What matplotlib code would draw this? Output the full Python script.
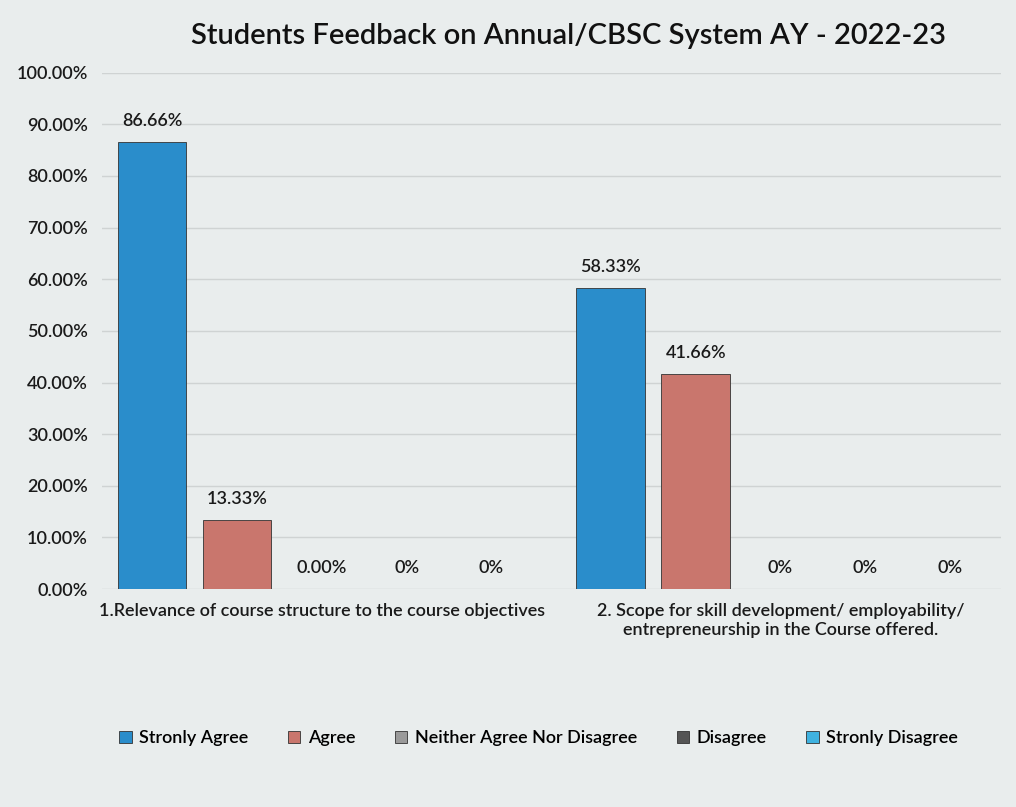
#!/usr/bin/env python3
import matplotlib
matplotlib.use("Agg")
import matplotlib.pyplot as plt
import numpy as np

plt.rcParams["font.family"] = ["Lato", "DejaVu Sans"]

# Data
categories = [
    "1.Relevance of course structure to the course objectives",
    "2. Scope for skill development/ employability/\nentrepreneurship in the Course offered.",
]
series_names = ["Stronly Agree", "Agree", "Neither Agree Nor Disagree", "Disagree", "Stronly Disagree"]
strongly_agree = [86.66, 58.33]
agree = [13.33, 41.66]
neither = [0.0, 0.0]
disagree = [0.0, 0.0]
strongly_disagree = [0.0, 0.0]
value_labels = [
    ["86.66%", "58.33%"],
    ["13.33%", "41.66%"],
    ["0.00%", "0%"],
    ["0%", "0%"],
    ["0%", "0%"],
]
colors = ["#2a8dcb", "#c9766d", "#9a9a9a", "#555555", "#3fb2e0"]

series = [strongly_agree, agree, neither, disagree, strongly_disagree]

fig, ax = plt.subplots(figsize=(10.16, 8.07), dpi=100)
bg = "#e9eded"
fig.patch.set_facecolor(bg)
ax.set_facecolor(bg)

x = np.arange(len(categories))
width = 0.15
gap = 0.185
for i, (name, vals) in enumerate(zip(series_names, series)):
    pos = x + (i - 2) * gap
    bars = ax.bar(pos, vals, width, color=colors[i], edgecolor="#333333",
                  linewidth=0.6, label=name, zorder=3)
    for b, lab in zip(bars, value_labels[i]):
        ax.text(b.get_x() + b.get_width() / 2, b.get_height() + 2.5, lab,
                ha="center", va="bottom", fontsize=13, color="#1a1a1a",
                fontweight="semibold")

ax.set_ylim(0, 100)
ax.set_xlim(-0.48, 1.48)
ax.set_yticks(np.arange(0, 101, 10))
ax.set_yticklabels([f"{v:.2f}%" for v in range(0, 101, 10)], fontsize=13,
                   fontweight="semibold", color="#1a1a1a")
ax.set_xticks(x)
ax.set_xticklabels(categories, fontsize=13, fontweight="semibold", color="#1a1a1a")
ax.tick_params(length=0, pad=10)
ax.grid(axis="y", color="#cfd3d3", linewidth=1, zorder=0)
for s in ax.spines.values():
    s.set_visible(False)

fig.text(0.56, 0.955, "Students Feedback on Annual/CBSC System AY - 2022-23",
         ha="center", va="center", fontsize=21, fontweight="semibold", color="#111111")

ax.legend(loc="center", bbox_to_anchor=(0.53, 0.085), bbox_transform=fig.transFigure,
          ncol=5, frameon=False, fontsize=13, handlelength=0.7, handleheight=0.7,
          columnspacing=2.2, handletextpad=0.4,
          prop={"weight": "semibold", "size": 13})

plt.subplots_adjust(left=0.1, right=0.985, top=0.91, bottom=0.27)
plt.savefig("out.png", facecolor=bg)
plt.close()
